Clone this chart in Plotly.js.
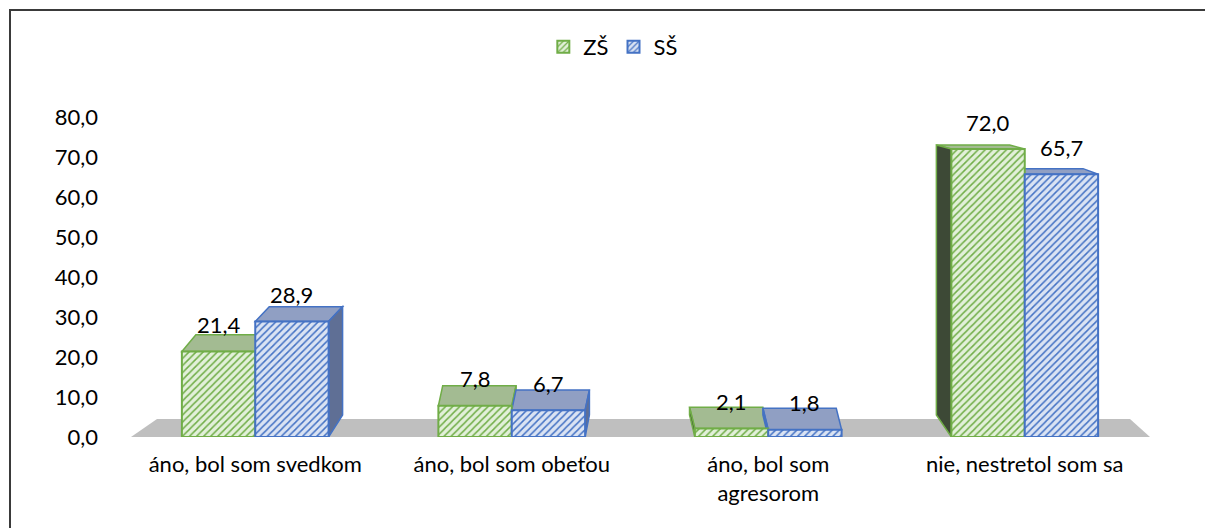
<!DOCTYPE html>
<html><head><meta charset="utf-8">
<script src="https://cdn.plot.ly/plotly-3.0.1.min.js"></script>
<style>
html,body{margin:0;padding:0;background:#fff;overflow:hidden;}
#chart{width:1205px;height:528px;}
#frame{position:absolute;left:9px;top:9px;width:1400px;height:700px;border-left:2px solid #3a3a3a;border-top:2px solid #3a3a3a;pointer-events:none;}
</style>
</head><body><div id="chart"></div><div id="frame"></div>
<script>
// ---- data ----
const categories = ['áno, bol som svedkom', 'áno, bol som obeťou', 'áno, bol som<br>agresorom', 'nie, nestretol som sa'];
const seriesNames = ['ZŠ', 'SŠ'];
const zsValues = [21.4, 7.8, 2.1, 72.0];
const ssValues = [28.9, 6.7, 1.8, 65.7];
const yTickValues = [0, 10, 20, 30, 40, 50, 60, 70, 80];

// ---- style ----
const FONT = 'Lato, "Open Sans", sans-serif';
const FS = 22;
const W = 1205, H = 528;
const M = {l: 127, r: 52, t: 117, b: 91};
const xRange = [-0.5, categories.length - 0.5];
const yRange = [0, 80];
const BARGAP = 0.428;
const barW = (1 - BARGAP) / 2;
const styles = [
  {line: '#70ad47', bg: '#e2f0d9', top: '#a3bb92', side: '#3d4936'},
  {line: '#4472c4', bg: '#dae3f3', top: '#909fc3', side: '#5f6f95'}
];

const idx = categories.map((c, i) => i);
const xUnit = (W - M.l - M.r) / (xRange[1] - xRange[0]);
const yUnit = (H - M.t - M.b) / (yRange[1] - yRange[0]);
const vpX = 626, kX = 0.0377; // perspective for depth faces

const series = [zsValues, ssValues];
const traces = series.map((vals, s) => ({
  type: 'bar', name: seriesNames[s], x: idx, y: vals,
  marker: {
    color: styles[s].bg,
    line: {color: styles[s].line, width: 2},
    pattern: {shape: '/', fgcolor: styles[s].line, bgcolor: styles[s].bg, size: 5, solidity: 0.3, fillmode: 'replace'}
  },
  hoverinfo: 'skip'
}));

const shapes = [];
// floor
const fx = px => (px - M.l) / xUnit + xRange[0];
shapes.push({type: 'path', xref: 'x', yref: 'y', layer: 'below',
  path: `M ${fx(131)},0 L ${fx(1150)},0 L ${fx(1130)},${18 / yUnit} L ${fx(157)},${18 / yUnit} Z`,
  fillcolor: '#bfbfbf', line: {width: 0}});

const annotations = [];
idx.forEach(i => {
  const cx = M.l + (i - xRange[0]) * xUnit;
  const dxPx = (vpX - cx) * kX;
  series.forEach((vals, s) => {
    const v = vals[i];
    const xa = i - barW + s * barW, xb = xa + barW;
    const dyPx = 22 - 0.25 * v;
    const dx = dxPx / xUnit, dy = dyPx / yUnit;
    // top face
    shapes.push({type: 'path', xref: 'x', yref: 'y', layer: 'below',
      path: `M ${xa},${v} L ${xb},${v} L ${xb + dx},${v + dy} L ${xa + dx},${v + dy} Z`,
      fillcolor: styles[s].top, line: {color: styles[s].line, width: 1.5}});
    // side face
    const xs = dx > 0 ? xb : xa;
    const dy0 = 22 / yUnit;
    shapes.push({type: 'path', xref: 'x', yref: 'y', layer: 'below',
      path: `M ${xs},0 L ${xs},${v} L ${xs + dx},${v + dy} L ${xs + dx},${dy0} Z`,
      fillcolor: styles[s].side, line: {color: styles[s].line, width: 1.5}});
    annotations.push({x: (xa + xb) / 2, y: v, xref: 'x', yref: 'y', text: v.toFixed(1).replace('.', ','),
      showarrow: false, yanchor: 'middle', yshift: 27, font: {family: FONT, size: FS, color: '#000'}});
  });
});

const layout = {
  width: W, height: H,
  margin: M,
  paper_bgcolor: 'rgba(0,0,0,0)', plot_bgcolor: 'rgba(0,0,0,0)',
  font: {family: FONT, size: FS, color: '#000'},
  separators: ', ',
  barmode: 'group', bargap: BARGAP, bargroupgap: 0,
  showlegend: true,
  legend: {orientation: 'h', x: 0.474, xanchor: 'center', y: 1.219, yanchor: 'middle',
    font: {family: FONT, size: FS, color: '#000'}, itemwidth: 30, traceorder: 'normal'},
  xaxis: {type: 'linear', range: xRange, tickvals: idx, ticktext: categories,
    showgrid: false, zeroline: false, showline: false, ticks: '', ticklabelstandoff: 12,
    tickfont: {family: FONT, size: FS, color: '#000'}, fixedrange: true},
  yaxis: {range: yRange, tickvals: yTickValues, tickformat: '.1f',
    showgrid: false, zeroline: false, showline: false, ticks: '', ticklabelstandoff: 28,
    tickfont: {family: FONT, size: FS, color: '#000'}, fixedrange: true},
  shapes: shapes,
  annotations: annotations
};

Plotly.newPlot('chart', traces, layout, {displayModeBar: false, staticPlot: true});
</script>
</body></html>
